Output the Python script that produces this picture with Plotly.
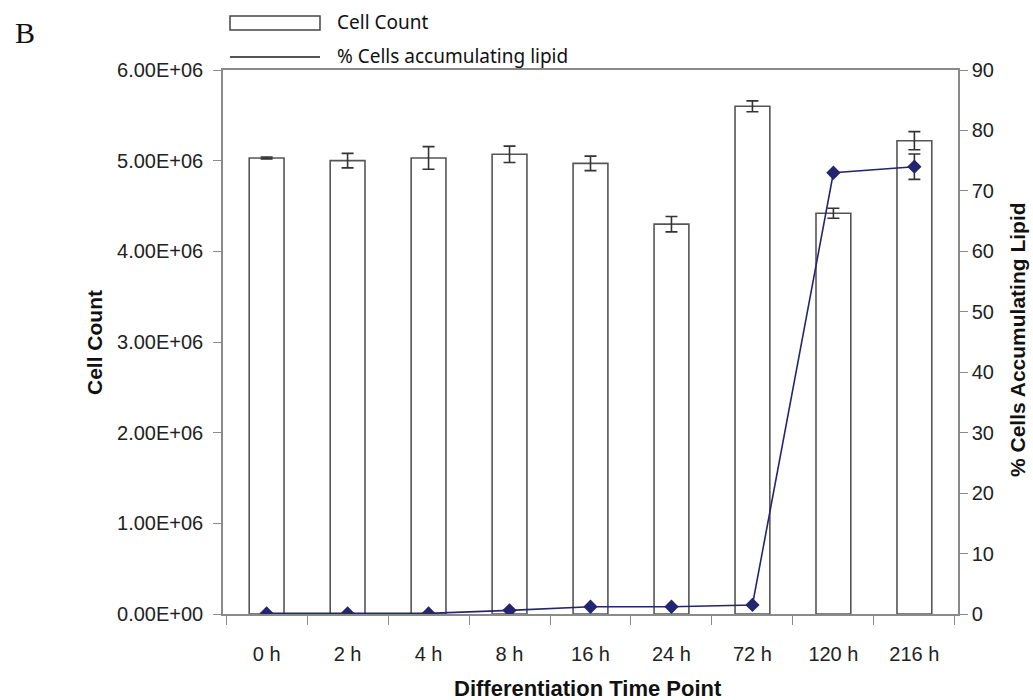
import plotly.graph_objects as go

# Differentiation time course: cell counts (bars) and % cells with lipid (line)
time_points = ["0 h", "2 h", "4 h", "8 h", "16 h", "24 h", "72 h", "120 h", "216 h"]
cell_count = [5.03e6, 5.00e6, 5.03e6, 5.07e6, 4.97e6, 4.30e6, 5.60e6, 4.42e6, 5.22e6]
cell_count_err = [0.01e6, 0.08e6, 0.125e6, 0.09e6, 0.08e6, 0.085e6, 0.06e6, 0.055e6, 0.10e6]
pct_lipid = [0.1, 0.1, 0.1, 0.6, 1.2, 1.2, 1.5, 73.0, 74.0]
pct_lipid_err = [None, None, None, None, None, None, None, None, 2.1]

left_tickvals = [0, 1e6, 2e6, 3e6, 4e6, 5e6, 6e6]
left_ticktext = ["0.00E+00", "1.00E+06", "2.00E+06", "3.00E+06", "4.00E+06", "5.00E+06", "6.00E+06"]
right_tickvals = [0, 10, 20, 30, 40, 50, 60, 70, 80, 90]

W, H = 1033, 700
L, R, T, B = 223, 75, 70, 86
AXIS_GREY = "#8a8a8a"
LINE_BLUE = "#25256f"
TICK_FONT = dict(family="Liberation Sans, Arial", size=20, color="#222")
TITLE_FONT = dict(family="Liberation Sans, Arial", size=21, color="#111")
LEGEND_FONT = dict(family="Noto Sans, Open Sans", size=19, color="#111")
NBSP = "\u00a0"


def px(x):
    return (x - L) / (W - L - R)


def py(y):
    return (H - B - y) / (H - T - B)


def label(text, x, y, **kw):
    opts = dict(xanchor="center", yanchor="middle")
    opts.update(kw)
    fig.add_annotation(text=text, x=px(x), y=py(y), xref="paper", yref="paper",
                       showarrow=False, **opts)


fig = go.Figure()
fig.add_trace(go.Bar(
    x=time_points, y=cell_count, name="Cell Count",
    marker=dict(color="white", line=dict(color="#555", width=1.6)),
    width=0.43,
    error_y=dict(type="data", array=cell_count_err, color="#333", thickness=1.6, width=6),
    yaxis="y", showlegend=False,
))
fig.add_trace(go.Scatter(
    x=time_points, y=pct_lipid, name="% Cells accumulating lipid",
    mode="lines+markers",
    line=dict(color=LINE_BLUE, width=1.6),
    marker=dict(symbol="diamond", size=11, color=LINE_BLUE),
    error_y=dict(type="data", array=pct_lipid_err, color="#333", thickness=1.6, width=6),
    yaxis="y2", showlegend=False,
))

fig.update_layout(
    width=W, height=H,
    margin=dict(l=L, r=R, t=T, b=B),
    paper_bgcolor="white", plot_bgcolor="white",
    xaxis=dict(
        type="category", showline=True, mirror=True, linecolor=AXIS_GREY, linewidth=1.5,
        ticks="outside", tickson="boundaries", ticklen=9, tickcolor=AXIS_GREY,
        tickfont=TICK_FONT, ticklabelstandoff=21, showgrid=False, zeroline=False,
    ),
    yaxis=dict(
        range=[0, 6e6], tickvals=left_tickvals, ticktext=left_ticktext,
        showline=True, linecolor=AXIS_GREY, linewidth=1.5,
        ticks="outside", ticklen=8, tickcolor=AXIS_GREY,
        tickfont=TICK_FONT, ticklabelstandoff=6, showgrid=False, zeroline=False,
    ),
    yaxis2=dict(
        range=[0, 90], tickvals=right_tickvals, overlaying="y", side="right",
        tickprefix=NBSP * 2,
        showline=True, linecolor=AXIS_GREY, linewidth=1.5,
        ticks="outside", ticklen=8, tickcolor=AXIS_GREY,
        tickfont=TICK_FONT, showgrid=False, zeroline=False,
    ),
)

# Axis titles
label("<b>Cell Count</b>", 94, 343, textangle=-90, font=TITLE_FONT)
label("<b>% Cells Accumulating Lipid</b>", 1017, 340, textangle=-90, font=TITLE_FONT)
label("<b>Differentiation Time Point</b>", 588, 688,
      font=dict(family="Liberation Sans, Arial", size=22, color="#111"))

# Panel letter
label("B", 25, 32, font=dict(family="Liberation Serif, Times New Roman", size=30, color="#111"))

# Legend drawn above the plot
fig.add_shape(type="rect", x0=px(230), x1=px(320), y0=py(16), y1=py(30),
              xref="paper", yref="paper", line=dict(color="#444", width=1.5), fillcolor="white")
fig.add_shape(type="line", x0=px(230), x1=px(320), y0=py(57), y1=py(57),
              xref="paper", yref="paper", line=dict(color="#555", width=2))
label("Cell Count", 335, 22, xanchor="left", font=LEGEND_FONT)
label("% Cells accumulating lipid", 335, 56, xanchor="left", font=LEGEND_FONT)

fig.write_html("out.html")
